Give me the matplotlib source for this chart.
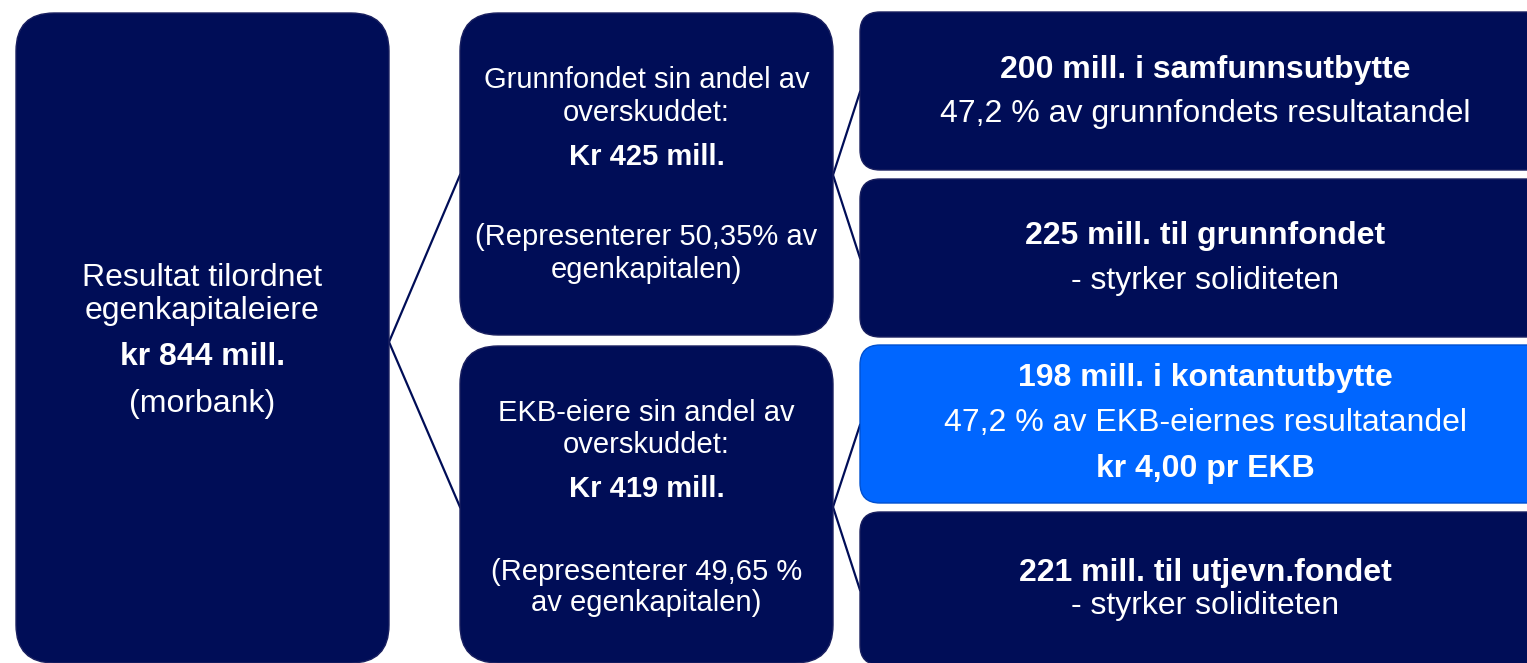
import matplotlib
matplotlib.use("Agg")
import matplotlib.pyplot as plt
from matplotlib.patches import FancyBboxPatch

plt.rcParams['font.family'] = ['Liberation Sans', 'DejaVu Sans']

NAVY = '#000D57'
BLUE = '#0066FF'

# boxer: (x0, y0, x1, y1, radius, farge)
bokser = {
    'A':  (16, 13, 389, 663, 38, NAVY),
    'B1': (460, 13, 833, 335, 38, NAVY),
    'B2': (460, 346, 833, 663, 38, NAVY),
    'C1': (860, 12, 1550, 170, 20, NAVY),
    'C2': (860, 179, 1550, 337, 20, NAVY),
    'C3': (860, 345, 1550, 503, 20, BLUE),
    'C4': (860, 512, 1550, 665, 20, NAVY),
}

# skriftstorrelse per boks
storrelse = {'A': 23, 'B1': 21, 'B2': 21, 'C1': 23, 'C2': 23, 'C3': 23, 'C4': 23}

# tekstlinjer: (boks, y, tekst, fet)
linjer = [
    ('A', 278, 'Resultat tilordnet', False),
    ('A', 311, 'egenkapitaleiere', False),
    ('A', 357, 'kr 844 mill.', True),
    ('A', 404, '(morbank)', False),
    ('B1', 80, 'Grunnfondet sin andel av', False),
    ('B1', 113, 'overskuddet:', False),
    ('B1', 157, 'Kr 425 mill.', True),
    ('B1', 237, '(Representerer 50,35% av', False),
    ('B1', 270, 'egenkapitalen)', False),
    ('B2', 413, 'EKB-eiere sin andel av', False),
    ('B2', 445, 'overskuddet:', False),
    ('B2', 489, 'Kr 419 mill.', True),
    ('B2', 572, '(Representerer 49,65 %', False),
    ('B2', 603, 'av egenkapitalen)', False),
    ('C1', 70, '200 mill. i samfunnsutbytte', True),
    ('C1', 114, '47,2 % av grunnfondets resultatandel', False),
    ('C2', 236, '225 mill. til grunnfondet', True),
    ('C2', 281, '- styrker soliditeten', False),
    ('C3', 378, '198 mill. i kontantutbytte', True),
    ('C3', 423, '47,2 % av EKB-eiernes resultatandel', False),
    ('C3', 469, 'kr 4,00 pr EKB', True),
    ('C4', 573, '221 mill. til utjevn.fondet', True),
    ('C4', 606, '- styrker soliditeten', False),
]

# forbindelseslinjer
koblinger = [
    ((389, 342), (460, 175)),
    ((389, 342), (460, 507)),
    ((833, 175), (860, 92)),
    ((833, 175), (860, 258)),
    ((833, 507), (860, 425)),
    ((833, 507), (860, 590)),
]

fig = plt.figure(figsize=(15.27, 6.63), dpi=100)
ax = fig.add_axes([0, 0, 1, 1])
ax.set_xlim(0, 1527)
ax.set_ylim(663, 0)
ax.axis('off')

for (p0, p1) in koblinger:
    ax.plot([p0[0], p1[0]], [p0[1], p1[1]], color=NAVY, lw=1.6, zorder=1)

for navn, (x0, y0, x1, y1, r, farge) in bokser.items():
    kant = '#0050D0' if farge == BLUE else '#1a2060'
    ax.add_patch(FancyBboxPatch((x0, y0), x1 - x0, y1 - y0,
                                boxstyle=f"round,pad=0,rounding_size={r}",
                                fc=farge, ec=kant, lw=1.0, zorder=2))

for navn, y, tekst, fet in linjer:
    x0, y0, x1, y1, r, farge = bokser[navn]
    if navn.startswith('C'):
        xc = 1205
    else:
        xc = (x0 + x1) / 2
    ax.text(xc, y, tekst, ha='center', va='center', color='white',
            fontsize=storrelse[navn], fontweight='bold' if fet else 'normal',
            zorder=3)

fig.savefig('out.png', dpi=100)
